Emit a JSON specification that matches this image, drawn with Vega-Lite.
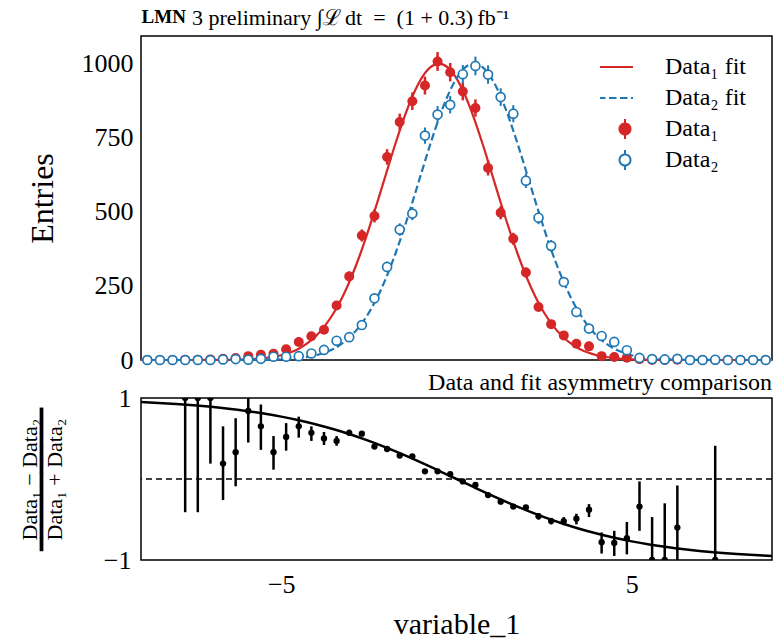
{
  "$schema": "https://vega.github.io/schema/vega-lite/v6.json",
  "background": "white",
  "padding": {"left": 17, "top": 5, "right": 1, "bottom": 0},
  "spacing": -4,
  "title": {
    "text": "LMN",
    "anchor": "start",
    "frame": "bounds",
    "dx": 124,
    "offset": -21,
    "font": "Liberation Serif",
    "fontSize": 19,
    "fontWeight": "bold",
    "color": "black"
  },
  "config": {
    "font": "Liberation Serif",
    "view": {"stroke": "black", "strokeWidth": 1.5},
    "axis": {
      "grid": false,
      "domain": false,
      "tickSize": 0,
      "tickColor": "black",
      "tickWidth": 1.3,
      "labelFont": "Liberation Serif",
      "labelFontSize": 26,
      "labelColor": "black",
      "labelOverlap": false,
      "labelFlush": false,
      "titleFont": "Liberation Serif",
      "titleFontWeight": "normal",
      "titleColor": "black"
    },
    "legend": {"labelLimit": 0}
  },
  "datasets": {
    "hist": [
      {"x": -8.82, "s": "Data₁", "v": 0, "e": 0},
      {"x": -8.46, "s": "Data₁", "v": 0, "e": 0},
      {"x": -8.1, "s": "Data₁", "v": 0, "e": 0},
      {"x": -7.74, "s": "Data₁", "v": 1, "e": 1},
      {"x": -7.38, "s": "Data₁", "v": 1, "e": 1},
      {"x": -7.02, "s": "Data₁", "v": 2, "e": 1.4},
      {"x": -6.66, "s": "Data₁", "v": 4, "e": 2},
      {"x": -6.3, "s": "Data₁", "v": 7, "e": 2.6},
      {"x": -5.94, "s": "Data₁", "v": 13, "e": 3.6},
      {"x": -5.58, "s": "Data₁", "v": 18, "e": 4.2},
      {"x": -5.22, "s": "Data₁", "v": 21, "e": 4.6},
      {"x": -4.86, "s": "Data₁", "v": 36, "e": 6},
      {"x": -4.5, "s": "Data₁", "v": 61, "e": 7.8},
      {"x": -4.14, "s": "Data₁", "v": 80, "e": 8.9},
      {"x": -3.78, "s": "Data₁", "v": 102, "e": 10.1},
      {"x": -3.42, "s": "Data₁", "v": 184, "e": 13.6},
      {"x": -3.06, "s": "Data₁", "v": 282, "e": 16.8},
      {"x": -2.7, "s": "Data₁", "v": 420, "e": 20.5},
      {"x": -2.34, "s": "Data₁", "v": 486, "e": 22},
      {"x": -1.98, "s": "Data₁", "v": 685, "e": 26.2},
      {"x": -1.62, "s": "Data₁", "v": 803, "e": 28.3},
      {"x": -1.26, "s": "Data₁", "v": 873, "e": 29.5},
      {"x": -0.9, "s": "Data₁", "v": 926, "e": 30.4},
      {"x": -0.54, "s": "Data₁", "v": 1007, "e": 31.7},
      {"x": -0.18, "s": "Data₁", "v": 971, "e": 31.2},
      {"x": 0.18, "s": "Data₁", "v": 906, "e": 30.1},
      {"x": 0.54, "s": "Data₁", "v": 850, "e": 29.2},
      {"x": 0.9, "s": "Data₁", "v": 648, "e": 25.5},
      {"x": 1.26, "s": "Data₁", "v": 497, "e": 22.3},
      {"x": 1.62, "s": "Data₁", "v": 409, "e": 20.2},
      {"x": 1.98, "s": "Data₁", "v": 295, "e": 17.2},
      {"x": 2.34, "s": "Data₁", "v": 179, "e": 13.4},
      {"x": 2.7, "s": "Data₁", "v": 121, "e": 11},
      {"x": 3.06, "s": "Data₁", "v": 83, "e": 9.1},
      {"x": 3.42, "s": "Data₁", "v": 55, "e": 7.4},
      {"x": 3.78, "s": "Data₁", "v": 46, "e": 6.8},
      {"x": 4.14, "s": "Data₁", "v": 13, "e": 3.6},
      {"x": 4.5, "s": "Data₁", "v": 10, "e": 3.2},
      {"x": 4.86, "s": "Data₁", "v": 8, "e": 2.8},
      {"x": 5.22, "s": "Data₁", "v": 3, "e": 1.7},
      {"x": 5.58, "s": "Data₁", "v": 0, "e": 0},
      {"x": 5.94, "s": "Data₁", "v": 0, "e": 0},
      {"x": 6.3, "s": "Data₁", "v": 1, "e": 1},
      {"x": 6.66, "s": "Data₁", "v": 0, "e": 0},
      {"x": 7.02, "s": "Data₁", "v": 0, "e": 0},
      {"x": 7.38, "s": "Data₁", "v": 0, "e": 0},
      {"x": 7.74, "s": "Data₁", "v": 0, "e": 0},
      {"x": 8.1, "s": "Data₁", "v": 0, "e": 0},
      {"x": 8.46, "s": "Data₁", "v": 0, "e": 0},
      {"x": 8.82, "s": "Data₁", "v": 0, "e": 0},
      {"x": -8.82, "s": "Data₂", "v": 0, "e": 0},
      {"x": -8.46, "s": "Data₂", "v": 0, "e": 0},
      {"x": -8.1, "s": "Data₂", "v": 0, "e": 0},
      {"x": -7.74, "s": "Data₂", "v": 0, "e": 0},
      {"x": -7.38, "s": "Data₂", "v": 0, "e": 0},
      {"x": -7.02, "s": "Data₂", "v": 0, "e": 0},
      {"x": -6.66, "s": "Data₂", "v": 2, "e": 1.4},
      {"x": -6.3, "s": "Data₂", "v": 3, "e": 1.7},
      {"x": -5.94, "s": "Data₂", "v": 1, "e": 1},
      {"x": -5.58, "s": "Data₂", "v": 4, "e": 2},
      {"x": -5.22, "s": "Data₂", "v": 11, "e": 3.3},
      {"x": -4.86, "s": "Data₂", "v": 11, "e": 3.3},
      {"x": -4.5, "s": "Data₂", "v": 13, "e": 3.6},
      {"x": -4.14, "s": "Data₂", "v": 22, "e": 4.7},
      {"x": -3.78, "s": "Data₂", "v": 34, "e": 5.8},
      {"x": -3.42, "s": "Data₂", "v": 65, "e": 8.1},
      {"x": -3.06, "s": "Data₂", "v": 77, "e": 8.8},
      {"x": -2.7, "s": "Data₂", "v": 118, "e": 10.9},
      {"x": -2.34, "s": "Data₂", "v": 208, "e": 14.4},
      {"x": -1.98, "s": "Data₂", "v": 314, "e": 17.7},
      {"x": -1.62, "s": "Data₂", "v": 440, "e": 21},
      {"x": -1.26, "s": "Data₂", "v": 494, "e": 22.2},
      {"x": -0.9, "s": "Data₂", "v": 757, "e": 27.5},
      {"x": -0.54, "s": "Data₂", "v": 828, "e": 28.8},
      {"x": -0.18, "s": "Data₂", "v": 861, "e": 29.3},
      {"x": 0.18, "s": "Data₂", "v": 964, "e": 31},
      {"x": 0.54, "s": "Data₂", "v": 992, "e": 31.5},
      {"x": 0.9, "s": "Data₂", "v": 963, "e": 31},
      {"x": 1.26, "s": "Data₂", "v": 887, "e": 29.8},
      {"x": 1.62, "s": "Data₂", "v": 831, "e": 28.8},
      {"x": 1.98, "s": "Data₂", "v": 605, "e": 24.6},
      {"x": 2.34, "s": "Data₂", "v": 480, "e": 21.9},
      {"x": 2.7, "s": "Data₂", "v": 385, "e": 19.6},
      {"x": 3.06, "s": "Data₂", "v": 263, "e": 16.2},
      {"x": 3.42, "s": "Data₂", "v": 162, "e": 12.7},
      {"x": 3.78, "s": "Data₂", "v": 106, "e": 10.3},
      {"x": 4.14, "s": "Data₂", "v": 81, "e": 9},
      {"x": 4.5, "s": "Data₂", "v": 61, "e": 7.8},
      {"x": 4.86, "s": "Data₂", "v": 33, "e": 5.7},
      {"x": 5.22, "s": "Data₂", "v": 7, "e": 2.6},
      {"x": 5.58, "s": "Data₂", "v": 3, "e": 1.7},
      {"x": 5.94, "s": "Data₂", "v": 2, "e": 1.4},
      {"x": 6.3, "s": "Data₂", "v": 4, "e": 2},
      {"x": 6.66, "s": "Data₂", "v": 0, "e": 0},
      {"x": 7.02, "s": "Data₂", "v": 0, "e": 0},
      {"x": 7.38, "s": "Data₂", "v": 1, "e": 1},
      {"x": 7.74, "s": "Data₂", "v": 0, "e": 0},
      {"x": 8.1, "s": "Data₂", "v": 0, "e": 0},
      {"x": 8.46, "s": "Data₂", "v": 0, "e": 0},
      {"x": 8.82, "s": "Data₂", "v": 0, "e": 0}
    ],
    "fit1": [
      {"x": -9, "s": "Data₁ fit", "v": 0},
      {"x": -7.5, "s": "Data₁ fit", "v": 0.05},
      {"x": -7, "s": "Data₁ fit", "v": 0.2},
      {"x": -6.5, "s": "Data₁ fit", "v": 0.6},
      {"x": -6.25, "s": "Data₁ fit", "v": 1.2},
      {"x": -6, "s": "Data₁ fit", "v": 2.1},
      {"x": -5.75, "s": "Data₁ fit", "v": 3.6},
      {"x": -5.5, "s": "Data₁ fit", "v": 6.1},
      {"x": -5.25, "s": "Data₁ fit", "v": 10},
      {"x": -5, "s": "Data₁ fit", "v": 16},
      {"x": -4.75, "s": "Data₁ fit", "v": 25.1},
      {"x": -4.5, "s": "Data₁ fit", "v": 38.2},
      {"x": -4.25, "s": "Data₁ fit", "v": 56.7},
      {"x": -4, "s": "Data₁ fit", "v": 82.1},
      {"x": -3.75, "s": "Data₁ fit", "v": 115.8},
      {"x": -3.5, "s": "Data₁ fit", "v": 159.3},
      {"x": -3.25, "s": "Data₁ fit", "v": 213.6},
      {"x": -3, "s": "Data₁ fit", "v": 279.3},
      {"x": -2.75, "s": "Data₁ fit", "v": 355.9},
      {"x": -2.5, "s": "Data₁ fit", "v": 442.1},
      {"x": -2.25, "s": "Data₁ fit", "v": 535.3},
      {"x": -2, "s": "Data₁ fit", "v": 631.8},
      {"x": -1.75, "s": "Data₁ fit", "v": 726.9},
      {"x": -1.5, "s": "Data₁ fit", "v": 815.4},
      {"x": -1.25, "s": "Data₁ fit", "v": 891.5},
      {"x": -1, "s": "Data₁ fit", "v": 950.3},
      {"x": -0.75, "s": "Data₁ fit", "v": 987.3},
      {"x": -0.5, "s": "Data₁ fit", "v": 1000},
      {"x": -0.25, "s": "Data₁ fit", "v": 987.3},
      {"x": 0, "s": "Data₁ fit", "v": 950.3},
      {"x": 0.25, "s": "Data₁ fit", "v": 891.5},
      {"x": 0.5, "s": "Data₁ fit", "v": 815.4},
      {"x": 0.75, "s": "Data₁ fit", "v": 726.9},
      {"x": 1, "s": "Data₁ fit", "v": 631.8},
      {"x": 1.25, "s": "Data₁ fit", "v": 535.3},
      {"x": 1.5, "s": "Data₁ fit", "v": 442.1},
      {"x": 1.75, "s": "Data₁ fit", "v": 355.9},
      {"x": 2, "s": "Data₁ fit", "v": 279.3},
      {"x": 2.25, "s": "Data₁ fit", "v": 213.6},
      {"x": 2.5, "s": "Data₁ fit", "v": 159.3},
      {"x": 2.75, "s": "Data₁ fit", "v": 115.8},
      {"x": 3, "s": "Data₁ fit", "v": 82.1},
      {"x": 3.25, "s": "Data₁ fit", "v": 56.7},
      {"x": 3.5, "s": "Data₁ fit", "v": 38.2},
      {"x": 3.75, "s": "Data₁ fit", "v": 25.1},
      {"x": 4, "s": "Data₁ fit", "v": 16},
      {"x": 4.25, "s": "Data₁ fit", "v": 10},
      {"x": 4.5, "s": "Data₁ fit", "v": 6.1},
      {"x": 4.75, "s": "Data₁ fit", "v": 3.6},
      {"x": 5, "s": "Data₁ fit", "v": 2.1},
      {"x": 5.25, "s": "Data₁ fit", "v": 1.2},
      {"x": 5.5, "s": "Data₁ fit", "v": 0.6},
      {"x": 6, "s": "Data₁ fit", "v": 0.2},
      {"x": 6.5, "s": "Data₁ fit", "v": 0.05},
      {"x": 9, "s": "Data₁ fit", "v": 0}
    ],
    "fit2": [
      {"x": -9, "s": "Data₂ fit", "v": 0},
      {"x": -6.5, "s": "Data₂ fit", "v": 0.05},
      {"x": -6, "s": "Data₂ fit", "v": 0.2},
      {"x": -5.5, "s": "Data₂ fit", "v": 0.6},
      {"x": -5.25, "s": "Data₂ fit", "v": 1.2},
      {"x": -5, "s": "Data₂ fit", "v": 2.1},
      {"x": -4.75, "s": "Data₂ fit", "v": 3.6},
      {"x": -4.5, "s": "Data₂ fit", "v": 6.1},
      {"x": -4.25, "s": "Data₂ fit", "v": 10},
      {"x": -4, "s": "Data₂ fit", "v": 16},
      {"x": -3.75, "s": "Data₂ fit", "v": 25.1},
      {"x": -3.5, "s": "Data₂ fit", "v": 38.2},
      {"x": -3.25, "s": "Data₂ fit", "v": 56.7},
      {"x": -3, "s": "Data₂ fit", "v": 82.1},
      {"x": -2.75, "s": "Data₂ fit", "v": 115.8},
      {"x": -2.5, "s": "Data₂ fit", "v": 159.3},
      {"x": -2.25, "s": "Data₂ fit", "v": 213.6},
      {"x": -2, "s": "Data₂ fit", "v": 279.3},
      {"x": -1.75, "s": "Data₂ fit", "v": 355.9},
      {"x": -1.5, "s": "Data₂ fit", "v": 442.1},
      {"x": -1.25, "s": "Data₂ fit", "v": 535.3},
      {"x": -1, "s": "Data₂ fit", "v": 631.8},
      {"x": -0.75, "s": "Data₂ fit", "v": 726.9},
      {"x": -0.5, "s": "Data₂ fit", "v": 815.4},
      {"x": -0.25, "s": "Data₂ fit", "v": 891.5},
      {"x": 0, "s": "Data₂ fit", "v": 950.3},
      {"x": 0.25, "s": "Data₂ fit", "v": 987.3},
      {"x": 0.5, "s": "Data₂ fit", "v": 1000},
      {"x": 0.75, "s": "Data₂ fit", "v": 987.3},
      {"x": 1, "s": "Data₂ fit", "v": 950.3},
      {"x": 1.25, "s": "Data₂ fit", "v": 891.5},
      {"x": 1.5, "s": "Data₂ fit", "v": 815.4},
      {"x": 1.75, "s": "Data₂ fit", "v": 726.9},
      {"x": 2, "s": "Data₂ fit", "v": 631.8},
      {"x": 2.25, "s": "Data₂ fit", "v": 535.3},
      {"x": 2.5, "s": "Data₂ fit", "v": 442.1},
      {"x": 2.75, "s": "Data₂ fit", "v": 355.9},
      {"x": 3, "s": "Data₂ fit", "v": 279.3},
      {"x": 3.25, "s": "Data₂ fit", "v": 213.6},
      {"x": 3.5, "s": "Data₂ fit", "v": 159.3},
      {"x": 3.75, "s": "Data₂ fit", "v": 115.8},
      {"x": 4, "s": "Data₂ fit", "v": 82.1},
      {"x": 4.25, "s": "Data₂ fit", "v": 56.7},
      {"x": 4.5, "s": "Data₂ fit", "v": 38.2},
      {"x": 4.75, "s": "Data₂ fit", "v": 25.1},
      {"x": 5, "s": "Data₂ fit", "v": 16},
      {"x": 5.25, "s": "Data₂ fit", "v": 10},
      {"x": 5.5, "s": "Data₂ fit", "v": 6.1},
      {"x": 5.75, "s": "Data₂ fit", "v": 3.6},
      {"x": 6, "s": "Data₂ fit", "v": 2.1},
      {"x": 6.25, "s": "Data₂ fit", "v": 1.2},
      {"x": 6.5, "s": "Data₂ fit", "v": 0.6},
      {"x": 7, "s": "Data₂ fit", "v": 0.2},
      {"x": 7.5, "s": "Data₂ fit", "v": 0.05},
      {"x": 9, "s": "Data₂ fit", "v": 0}
    ],
    "ratio": [
      {"x": -7.74, "r": 1, "lo": -0.41, "hi": 1},
      {"x": -7.38, "r": 1, "lo": -0.41, "hi": 1},
      {"x": -7.02, "r": 1, "lo": 0.19, "hi": 1},
      {"x": -6.66, "r": 0.19, "lo": -0.26, "hi": 0.65},
      {"x": -6.3, "r": 0.33, "lo": -0.09, "hi": 0.75},
      {"x": -5.94, "r": 0.84, "lo": 0.45, "hi": 1},
      {"x": -5.58, "r": 0.65, "lo": 0.36, "hi": 0.92},
      {"x": -5.22, "r": 0.33, "lo": 0.115, "hi": 0.53},
      {"x": -4.86, "r": 0.52, "lo": 0.35, "hi": 0.69},
      {"x": -4.5, "r": 0.65, "lo": 0.51, "hi": 0.77},
      {"x": -4.14, "r": 0.57, "lo": 0.47, "hi": 0.65},
      {"x": -3.78, "r": 0.5, "lo": 0.42, "hi": 0.58},
      {"x": -3.42, "r": 0.47, "lo": 0.41, "hi": 0.53},
      {"x": -3.06, "r": 0.57, "lo": 0.53, "hi": 0.61},
      {"x": -2.7, "r": 0.56, "lo": 0.53, "hi": 0.59},
      {"x": -2.34, "r": 0.4, "lo": 0.37, "hi": 0.43},
      {"x": -1.98, "r": 0.37, "lo": 0.345, "hi": 0.395},
      {"x": -1.62, "r": 0.29, "lo": 0.27, "hi": 0.31},
      {"x": -1.26, "r": 0.28, "lo": 0.26, "hi": 0.3},
      {"x": -0.9, "r": 0.095, "lo": 0.075, "hi": 0.115},
      {"x": -0.54, "r": 0.095, "lo": 0.075, "hi": 0.115},
      {"x": -0.18, "r": 0.06, "lo": 0.04, "hi": 0.08},
      {"x": 0.18, "r": -0.03, "lo": -0.05, "hi": -0.01},
      {"x": 0.54, "r": -0.074, "lo": -0.094, "hi": -0.054},
      {"x": 0.9, "r": -0.198, "lo": -0.22, "hi": -0.176},
      {"x": 1.26, "r": -0.28, "lo": -0.305, "hi": -0.255},
      {"x": 1.62, "r": -0.34, "lo": -0.365, "hi": -0.315},
      {"x": 1.98, "r": -0.35, "lo": -0.38, "hi": -0.32},
      {"x": 2.34, "r": -0.46, "lo": -0.5, "hi": -0.42},
      {"x": 2.7, "r": -0.52, "lo": -0.56, "hi": -0.48},
      {"x": 3.06, "r": -0.52, "lo": -0.57, "hi": -0.47},
      {"x": 3.42, "r": -0.49, "lo": -0.56, "hi": -0.43},
      {"x": 3.78, "r": -0.38, "lo": -0.47, "hi": -0.31},
      {"x": 4.14, "r": -0.78, "lo": -0.92, "hi": -0.66},
      {"x": 4.5, "r": -0.79, "lo": -0.95, "hi": -0.64},
      {"x": 4.86, "r": -0.73, "lo": -0.93, "hi": -0.53},
      {"x": 5.22, "r": -0.34, "lo": -0.64, "hi": -0.03},
      {"x": 5.58, "r": -1, "lo": -1, "hi": -0.47},
      {"x": 5.94, "r": -1, "lo": -1, "hi": -0.3},
      {"x": 6.3, "r": -0.6, "lo": -1, "hi": -0.08},
      {"x": 7.38, "r": -1, "lo": -1, "hi": 0.41}
    ],
    "ratiofit": [
      {"x": -9, "r": 0.9505},
      {"x": -8.5, "r": 0.9396},
      {"x": -8, "r": 0.9265},
      {"x": -7.5, "r": 0.9105},
      {"x": -7, "r": 0.8914},
      {"x": -6.5, "r": 0.8684},
      {"x": -6, "r": 0.8409},
      {"x": -5.5, "r": 0.8084},
      {"x": -5, "r": 0.77},
      {"x": -4.5, "r": 0.7251},
      {"x": -4, "r": 0.6731},
      {"x": -3.5, "r": 0.6134},
      {"x": -3, "r": 0.5457},
      {"x": -2.5, "r": 0.4701},
      {"x": -2, "r": 0.3869},
      {"x": -1.5, "r": 0.2969},
      {"x": -1, "r": 0.2013},
      {"x": -0.5, "r": 0.1017},
      {"x": 0, "r": 0},
      {"x": 0.5, "r": -0.1017},
      {"x": 1, "r": -0.2013},
      {"x": 1.5, "r": -0.2969},
      {"x": 2, "r": -0.3869},
      {"x": 2.5, "r": -0.4701},
      {"x": 3, "r": -0.5457},
      {"x": 3.5, "r": -0.6134},
      {"x": 4, "r": -0.6731},
      {"x": 4.5, "r": -0.7251},
      {"x": 5, "r": -0.77},
      {"x": 5.5, "r": -0.8084},
      {"x": 6, "r": -0.8409},
      {"x": 6.5, "r": -0.8684},
      {"x": 7, "r": -0.8914},
      {"x": 7.5, "r": -0.9105},
      {"x": 8, "r": -0.9265},
      {"x": 8.5, "r": -0.9396},
      {"x": 9, "r": -0.9505}
    ],
    "zero": [{"y": 0}]
  },
  "vconcat": [
    {
      "width": 631,
      "height": 324,
      "title": {
        "text": "3 preliminary ∫ℒ\u2009dt\u2002=\u2002(1 + 0.3)\u2009fb⁻¹",
        "anchor": "start",
        "frame": "group",
        "dx": 51,
        "font": "Liberation Serif",
        "fontSize": 22,
        "fontWeight": "normal",
        "color": "black",
        "offset": 6
      },
      "encoding": {
        "x": {
          "field": "x",
          "type": "quantitative",
          "scale": {"domain": [-9, 9], "nice": false, "zero": false},
          "axis": {
            "values": [-9, -8, -7, -6, -5, -4, -3, -2, -1, 0, 1, 2, 3, 4, 5, 6, 7, 8, 9],
            "labels": false,
            "title": null,
            "encode": {"ticks": {"update": {"y2": {"signal": "datum.value % 5 === 0 ? -9 : -5"}}}}
          }
        },
        "y": {
          "field": "v",
          "type": "quantitative",
          "scale": {"domain": [0, 1093], "nice": false, "zero": false},
          "axis": {
            "values": [0, 50, 100, 150, 200, 250, 300, 350, 400, 450, 500, 550, 600, 650, 700, 750, 800, 850, 900, 950, 1000, 1050],
            "format": "d",
            "labelExpr": "datum.value % 250 === 0 ? datum.label : ''",
            "labelPadding": 8,
            "title": "Entries",
            "titleFontSize": 32,
            "titlePadding": 22,
            "encode": {"ticks": {"update": {"x2": {"signal": "datum.value % 250 === 0 ? 9 : 5"}}}}
          }
        }
      },
      "layer": [
        {
          "data": {"name": "fit1"},
          "mark": {"type": "line", "strokeWidth": 2.2, "interpolate": "monotone"},
          "encoding": {
            "color": {
              "field": "s",
              "type": "nominal",
              "scale": {"domain": ["Data₁ fit", "Data₂ fit", "Data₁", "Data₂"], "range": ["#d62728", "#1f77b4", "#d62728", "#1f77b4"]},
              "legend": {
                "title": null,
                "orient": "none",
                "legendX": 459,
                "legendY": 19,
                "padding": 0,
                "labelFont": "Liberation Serif",
                "labelFontSize": 24,
                "labelColor": "black",
                "symbolSize": 400,
                "labelOffset": 41,
                "rowPadding": 7,
                "clipHeight": 24,
                "encode": {
                  "symbols": {
                    "update": {
                      "x": {"signal": "indexof(datum.value, 'fit') >= 0 ? 10 : 25"},
                      "shape": {"signal": "indexof(datum.value, 'fit') >= 0 ? 'M-2.3,0H2.3' : 'M-2.3,0h0M2.3,0h0M0,-1V-0.55M0,0.55V1M0.55,0A0.55,0.55,0,1,1,-0.55,0A0.55,0.55,0,1,1,0.55,0Z'"},
                      "strokeDash": {"signal": "datum.value === 'Data₂ fit' ? [7.5, 3.5] : [1, 0]"},
                      "fill": {"signal": "datum.value === 'Data₁' ? '#d62728' : (datum.value === 'Data₂' ? 'white' : 'transparent')"},
                      "stroke": {"signal": "indexof(datum.value, '₁') >= 0 ? '#d62728' : '#1f77b4'"},
                      "strokeWidth": {"value": 2},
                      "opacity": {"value": 1},
                      "fillOpacity": {"value": 1}
                    }
                  }
                }
              }
            }
          }
        },
        {
          "data": {"name": "fit2"},
          "mark": {"type": "line", "strokeWidth": 2.2, "strokeDash": [7.5, 3.5], "interpolate": "monotone"},
          "encoding": {"color": {"field": "s", "type": "nominal"}}
        },
        {
          "data": {"name": "hist"},
          "transform": [{"filter": "datum.s === 'Data₁'"}],
          "mark": {"type": "errorbar", "color": "#d62728", "rule": {"strokeWidth": 2.5}},
          "encoding": {"yError": {"field": "e"}}
        },
        {
          "data": {"name": "hist"},
          "transform": [{"filter": "datum.s === 'Data₁'"}],
          "mark": {"type": "point", "filled": true, "color": "#d62728", "size": 100, "opacity": 1}
        },
        {
          "data": {"name": "hist"},
          "transform": [{"filter": "datum.s === 'Data₂'"}],
          "mark": {"type": "errorbar", "color": "#1f77b4", "rule": {"strokeWidth": 2}},
          "encoding": {"yError": {"field": "e"}}
        },
        {
          "data": {"name": "hist"},
          "transform": [{"filter": "datum.s === 'Data₂'"}],
          "mark": {"type": "point", "filled": true, "fill": "white", "stroke": "#1f77b4", "strokeWidth": 1.7, "size": 80, "opacity": 1}
        }
      ]
    },
    {
      "width": 631,
      "height": 162,
      "title": {
        "text": "Data and fit asymmetry comparison",
        "anchor": "end",
        "frame": "group",
        "font": "Liberation Serif",
        "fontSize": 24,
        "fontWeight": "normal",
        "color": "black",
        "offset": -10
      },
      "layer": [
        {
          "data": {"name": "zero"},
          "mark": {"type": "rule", "strokeDash": [6, 4], "color": "black", "strokeWidth": 1.5},
          "encoding": {
            "y": {
              "field": "y",
              "type": "quantitative",
              "scale": {"domain": [-1, 1], "nice": false, "zero": false},
              "axis": {
                "values": [-1, -0.8, -0.6, -0.4, -0.2, 0, 0.2, 0.4, 0.6, 0.8, 1],
                "format": "d",
                "labelExpr": "datum.value === 0 || abs(datum.value) === 1 ? datum.label : ''",
                "labelPadding": 10,
                "title": ["Data₁ − Data₂", "━━━━━━━━━━━", "Data₁ + Data₂"],
                "titleFontSize": 22,
                "titleLineHeight": 12.5,
                "titlePadding": 37,
                "encode": {"ticks": {"update": {"x2": {"signal": "(datum.value === 0 || abs(datum.value) === 1) ? 9 : 5"}}}}
              }
            }
          }
        },
        {
          "data": {"name": "ratiofit"},
          "mark": {"type": "line", "color": "black", "strokeWidth": 2.5, "interpolate": "monotone"},
          "encoding": {
            "x": {
              "field": "x",
              "type": "quantitative",
              "scale": {"domain": [-9, 9], "nice": false, "zero": false},
              "axis": {
                "values": [-9, -8, -7, -6, -5, -4, -3, -2, -1, 0, 1, 2, 3, 4, 5, 6, 7, 8, 9],
                "format": "d",
                "labelExpr": "datum.value % 5 === 0 ? datum.label : ''",
                "labelPadding": 11,
                "title": "variable_1",
                "titleFontSize": 30,
                "titlePadding": 12,
                "encode": {"ticks": {"update": {"y2": {"signal": "datum.value % 5 === 0 ? -9 : -5"}}}}
              }
            },
            "y": {"field": "r", "type": "quantitative"}
          }
        },
        {
          "data": {"name": "ratio"},
          "mark": {"type": "rule", "color": "black", "strokeWidth": 2.5, "clip": true},
          "encoding": {
            "x": {"field": "x", "type": "quantitative"},
            "y": {"field": "lo", "type": "quantitative"},
            "y2": {"field": "hi"}
          }
        },
        {
          "data": {"name": "ratio"},
          "mark": {"type": "point", "filled": true, "color": "black", "size": 40, "opacity": 1, "clip": true},
          "encoding": {
            "x": {"field": "x", "type": "quantitative"},
            "y": {"field": "r", "type": "quantitative"}
          }
        }
      ]
    }
  ]
}
